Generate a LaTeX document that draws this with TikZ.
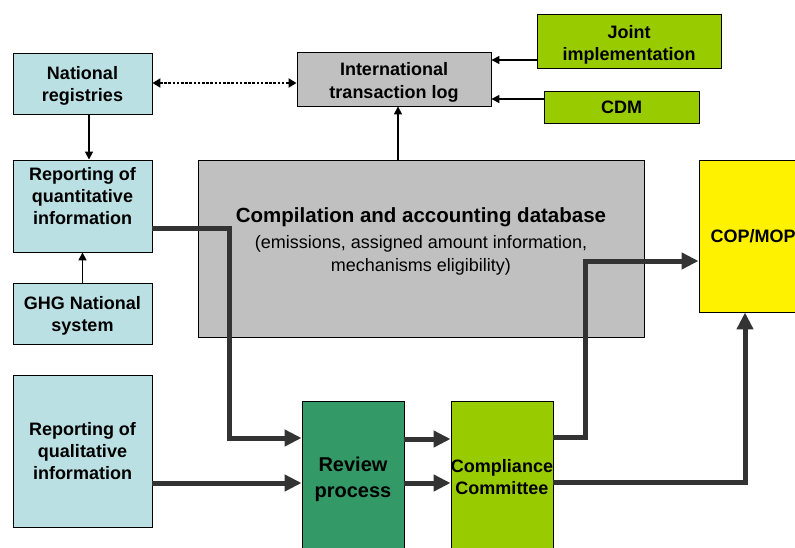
\documentclass[tikz,border=0pt]{standalone}
\usepackage{fontspec}
\setmainfont{Liberation Sans}
\usetikzlibrary{arrows.meta}
\definecolor{paleblue}{HTML}{BBE0E3}
\definecolor{boxgray}{HTML}{C0C0C0}
\definecolor{lime}{HTML}{99CC00}
\definecolor{seagreen}{HTML}{339966}
\definecolor{flowgray}{HTML}{333333}
\tikzset{
  box/.style={draw=black, line width=0.9pt, rectangle, inner sep=0pt},
  bluebox/.style={box, fill=paleblue},
  graybox/.style={box, fill=boxgray},
  limebox/.style={box, fill=lime},
  label/.style={inner sep=0pt, align=center, font=\fontsize{18}{22}\selectfont\bfseries},
  thin arrow/.style={draw=black, line width=1.6pt, -{Triangle[length=8pt,width=8pt]}},
  dotted link/.style={draw=black, line width=2.6pt, dash pattern=on 2.6pt off 1.6pt,
    {Triangle[length=8pt,width=9pt]}-{Triangle[length=8pt,width=9pt]}},
  flow/.style={draw=flowgray, line width=5pt, -{Triangle[length=17pt,width=16pt]}},
}
\begin{document}
\begin{tikzpicture}[x=1pt,y=-1pt]
\useasboundingbox (0,0) rectangle (795,548);

% national side
\node[bluebox, minimum width=139pt, minimum height=61pt] (nr) at (82.5,83.5) {};
\node[label] (nrtext) at (82.5,86) {National\\registries};
\node[bluebox, minimum width=139pt, minimum height=92pt] (rq) at (82.5,206) {};
\node[label] (rqtext) at (82.5,196) {Reporting of\\quantitative\\information};
\node[bluebox, minimum width=139pt, minimum height=61pt] (ghg) at (82.5,313.5) {};
\node[label] (ghgtext) at (82.5,316) {GHG National\\system};
\node[bluebox, minimum width=139pt, minimum height=152pt] (rql) at (82.5,451) {};
\node[label] (rqltext) at (82.5,451.5) {Reporting of\\qualitative\\information};

% transaction log and mechanisms
\node[graybox, minimum width=194pt, minimum height=54pt] (itl) at (394,79) {};
\node[label, font=\fontsize{18}{23}\selectfont\bfseries] (itltext) at (394,82) {International\\transaction log};
\node[limebox, minimum width=184pt, minimum height=54pt] (ji) at (629,41) {};
\node[label] (jitext) at (629,44.5) {Joint\\implementation};
\node[limebox, minimum width=155pt, minimum height=32pt] (cdm) at (621.5,107) {};
\node[label] (cdmtext) at (621.5,107) {CDM};

% database
\node[graybox, minimum width=446pt, minimum height=177pt] (cad) at (421,248.5) {};
\node[inner sep=0pt, align=center, font=\fontsize{18}{23}\selectfont] (cadtext) at (421,241.5)
  {{\fontsize{20.5}{23}\selectfont\bfseries Compilation and accounting database}\\[3pt]
   (emissions, assigned amount information,\\
   mechanisms eligibility)};

% decision bodies
\node[box, fill=yellow, minimum width=108pt, minimum height=152pt] (cop) at (753,236) {};
\node[label] (coptext) at (753,236.5) {COP/MOP};
\node[box, fill=seagreen, minimum width=102pt, minimum height=152pt] (rev) at (353,477) {};
\node[label, font=\fontsize{20}{26}\selectfont\bfseries] (revtext) at (353,479) {Review\\process};
\node[box, fill=lime, minimum width=102pt, minimum height=152pt] (cc) at (502,477) {};
\node[label] (cctext) at (502,477.5) {Compliance\\Committee};

% thin links
\draw[dotted link] (nr.east |- 0,83) -- (itl.west |- 0,83);
\draw[thin arrow] (nr.south -| 89,0) -- (rq.north -| 89,0);
\draw[thin arrow] (ghg.north) -- (rq.south);
\draw[thin arrow] (cad.north -| 398,0) -- (itl.south -| 398,0);
\draw[thin arrow] (ji.west |- 0,60) -- (itl.east |- 0,60);
\draw[thin arrow] (cdm.west |- 0,99) -- (itl.east |- 0,99);

% main flows
\draw[flow] (rq.east |- 0,229) -| (229,438) -- (rev.west |- 0,438);
\draw[flow] (rql.east |- 0,483) -- (rev.west |- 0,483);
\draw[flow] (rev.east |- 0,439) -- (cc.west |- 0,439);
\draw[flow] (rev.east |- 0,483) -- (cc.west |- 0,483);
\draw[flow] (cc.east |- 0,437) -| (585,261) -- (cop.west |- 0,261);
\draw[flow] (cc.east |- 0,482) -| (cop.south -| 745,0);
\end{tikzpicture}
\end{document}
